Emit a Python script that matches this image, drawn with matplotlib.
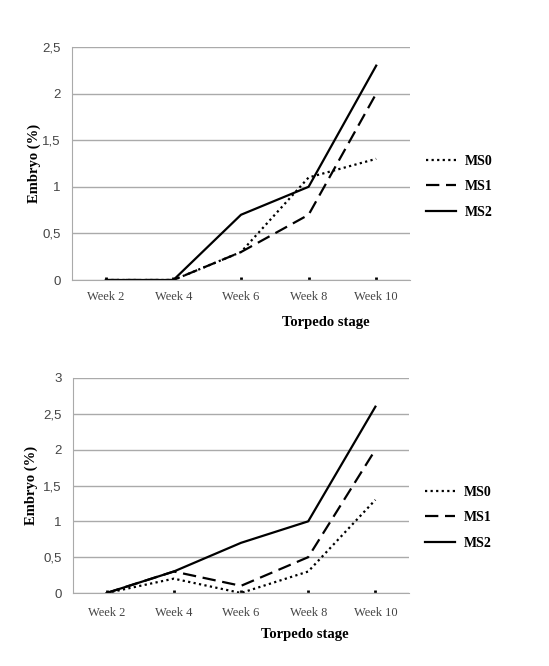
import matplotlib
matplotlib.use("Agg")
import matplotlib.pyplot as plt

# categories on the x axis
weeks = ["Week 2", "Week 4", "Week 6", "Week 8", "Week 10"]

# top chart values
top_ms0 = [0, 0, 0.3, 1.1, 1.3]
top_ms1 = [0, 0, 0.3, 0.7, 2.0]
top_ms2 = [0, 0, 0.7, 1.0, 2.3]
top_yticks = [0, 0.5, 1, 1.5, 2, 2.5]
top_yticklabels = ["0", "0,5", "1", "1,5", "2", "2,5"]

# bottom chart values
bot_ms0 = [0, 0.2, 0, 0.3, 1.3]
bot_ms1 = [0, 0.3, 0.1, 0.5, 2.0]
bot_ms2 = [0, 0.3, 0.7, 1.0, 2.6]
bot_yticks = [0, 0.5, 1, 1.5, 2, 2.5, 3]
bot_yticklabels = ["0", "0,5", "1", "1,5", "2", "2,5", "3"]

series_names = ["MS0", "MS1", "MS2"]

W, H = 549, 666
serif = "Liberation Serif"
sans = "Liberation Sans"


def draw_panel(ax, data, yticks, yticklabels, legend_y, xlab_pos, ylab_x, xtick_pad):
    x = list(range(len(weeks)))
    styles = [
        dict(linestyle=(0, (1, 1.5))),
        dict(linestyle=(0, (6, 3))),
        dict(linestyle="-"),
    ]
    for vals, name, st in zip(data, series_names, styles):
        ax.plot(x, vals, color="black", linewidth=1.6, label=name, **st)

    ax.set_xlim(-0.5, len(weeks) - 0.5)
    ax.set_ylim(yticks[0], yticks[-1])
    ax.set_yticks(yticks)
    ax.set_yticklabels(yticklabels, fontfamily=sans, fontsize=9.5, color="#444444")
    ax.set_xticks(x)
    ax.set_xticklabels(weeks, fontfamily=serif, fontsize=9, color="#444444")
    ax.tick_params(axis="y", length=0, pad=8)
    ax.tick_params(axis="x", length=2, width=2, color="black", pad=xtick_pad, direction="in")

    ax.grid(axis="y", color="#aaaaaa", linewidth=1)
    ax.set_axisbelow(True)
    for s in ["top", "right"]:
        ax.spines[s].set_visible(False)
    ax.spines["left"].set_color("#aaaaaa")
    ax.spines["bottom"].set_color("#aaaaaa")

    ax.set_ylabel("Embryo (%)", fontfamily=serif, fontweight="bold", fontsize=10.5)
    ax.yaxis.set_label_coords(ylab_x, 0.5)
    ax.set_xlabel("Torpedo stage", fontfamily=serif, fontweight="bold", fontsize=10.5)
    ax.xaxis.set_label_coords(*xlab_pos)

    ax.legend(loc="center left", bbox_to_anchor=(1.01, legend_y), frameon=False,
              handlelength=2.2, handletextpad=0.6, labelspacing=0.9,
              prop={"family": serif, "weight": "bold", "size": 10})


fig = plt.figure(figsize=(W / 100, H / 100), dpi=100)

ax1 = fig.add_axes([72 / W, 1 - 280 / H, 338 / W, 233 / H])
draw_panel(ax1, [top_ms0, top_ms1, top_ms2], top_yticks, top_yticklabels,
           0.40, (0.75, -0.155), -0.093, 8)

ax2 = fig.add_axes([73 / W, 1 - 593 / H, 336 / W, 215 / H])
draw_panel(ax2, [bot_ms0, bot_ms1, bot_ms2], bot_yticks, bot_yticklabels,
           0.35, (0.69, -0.165), -0.105, 10)

fig.savefig("out.png", dpi=100)
